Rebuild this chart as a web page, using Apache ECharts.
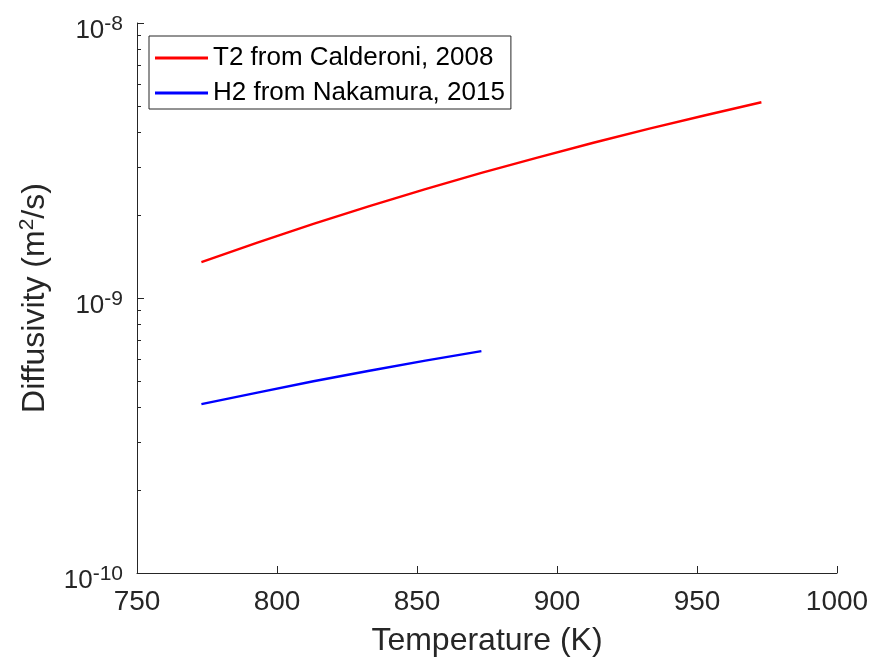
<!DOCTYPE html>
<html lang="en">
<head>
    <meta charset="UTF-8">
    <title>Diffusivity</title>
    <script src="https://cdn.jsdelivr.net/npm/echarts@6/dist/echarts.min.js"></script>
    <style>
        html, body { margin: 0; padding: 0; background: #fff; }
        #container { width: 875px; height: 667px; }
    </style>
</head>
<body>
<div id="container"></div>
<script>
    // values
    var t2Temp = [773, 793, 813, 833, 853, 873, 893, 913, 933, 953, 973];
    var t2Diff = [1.35e-9, 1.59e-9, 1.86e-9, 2.16e-9, 2.49e-9, 2.85e-9, 3.24e-9, 3.67e-9, 4.13e-9, 4.62e-9, 5.15e-9];
    var h2Temp = [773, 793, 813, 833, 853, 873];
    var h2Diff = [4.11e-10, 4.53e-10, 4.98e-10, 5.44e-10, 5.92e-10, 6.41e-10];
    var xTicks = [750, 800, 850, 900, 950, 1000];
    var yMinorTicks = [2e-10, 3e-10, 4e-10, 5e-10, 6e-10, 7e-10, 8e-10, 9e-10,
        2e-9, 3e-9, 4e-9, 5e-9, 6e-9, 7e-9, 8e-9, 9e-9];

    function pairs(xs, ys) {
        var out = [];
        for (var i = 0; i < xs.length; i++) out.push([xs[i], ys[i]]);
        return out;
    }

    var axisColor = '#262626';
    var font = '"Liberation Sans", Arial, sans-serif';

    var options = {
        animation: false,
        backgroundColor: '#fff',
        grid: { left: 137, right: 38, top: 23, bottom: 94 },
        legend: {
            left: 149, top: 36,
            orient: 'vertical',
            backgroundColor: '#fff',
            borderColor: axisColor,
            borderWidth: 1,
            borderRadius: 0,
            padding: [9, 6, 3, 6],
            itemGap: 9,
            itemWidth: 53,
            itemHeight: 3,
            icon: 'rect',
            textStyle: { fontSize: 26, color: '#000', fontFamily: font },
            data: ['T2 from Calderoni, 2008', 'H2 from Nakamura, 2015']
        },
        xAxis: {
            type: 'value',
            min: 750, max: 1000, interval: 50,
            name: 'Temperature (K)',
            nameLocation: 'middle',
            nameGap: 52,
            nameTextStyle: { fontSize: 32, color: axisColor, fontFamily: font },
            axisLine: { show: true, lineStyle: { color: axisColor, width: 1 } },
            axisTick: { show: true, inside: true, length: 7, lineStyle: { color: axisColor } },
            axisLabel: {
                fontSize: 28, color: axisColor, margin: 15, fontFamily: font,
                formatter: function (v) { return String(v); }
            },
            splitLine: { show: false }
        },
        yAxis: [
            {
                type: 'log', logBase: 10,
                min: 1e-10, max: 1e-8,
                name: 'Diffusivity (m{sup|2}/s)',
                nameLocation: 'middle',
                nameGap: 84,
                nameTextStyle: {
                    fontSize: 32, color: axisColor, fontFamily: font,
                    rich: {
                        sup: { fontSize: 21, color: axisColor, fontFamily: font, padding: [0, 0, 15, 0] }
                    }
                },
                axisLine: { show: true, lineStyle: { color: axisColor, width: 1 } },
                axisTick: { show: true, inside: true, length: 7, lineStyle: { color: axisColor } },
                axisLabel: {
                    color: axisColor, margin: 14, fontFamily: font, fontSize: 26,
                    padding: [16, 0, 0, 0],
                    formatter: function (v) {
                        var e = Math.round(Math.log10(v));
                        return '10{sup|' + e + '}';
                    },
                    rich: {
                        sup: { fontSize: 21, color: axisColor, fontFamily: font, padding: [0, 0, 14, 0] }
                    }
                },
                splitLine: { show: false }
            },
            {
                type: 'log', logBase: 10,
                min: 1e-10, max: 1e-8,
                position: 'left',
                axisLine: { show: false },
                axisTick: { show: true, inside: true, length: 4, customValues: yMinorTicks, lineStyle: { color: axisColor } },
                axisLabel: { show: false },
                splitLine: { show: false }
            }
        ],
        series: [
            {
                name: 'T2 from Calderoni, 2008',
                type: 'line',
                symbol: 'none',
                color: '#ff0000',
                lineStyle: { width: 2.4, color: '#ff0000' },
                data: pairs(t2Temp, t2Diff)
            },
            {
                name: 'H2 from Nakamura, 2015',
                type: 'line',
                symbol: 'none',
                color: '#0000ff',
                lineStyle: { width: 2.4, color: '#0000ff' },
                data: pairs(h2Temp, h2Diff)
            }
        ]
    };

    var myChart = echarts.init(document.getElementById('container'));
    myChart.setOption(options);
</script>
</body>
</html>
